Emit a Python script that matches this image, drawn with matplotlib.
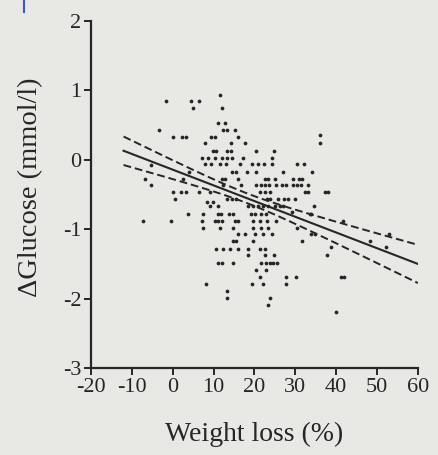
import numpy as np
import matplotlib
matplotlib.use("Agg")
import matplotlib.pyplot as plt
from matplotlib.lines import Line2D

# ---- data (rows of equal ΔGlucose) ----
glucose_levels = [0.94, 0.84, 0.74, 0.53, 0.43, 0.33, 0.35, 0.24, 0.13, 0.03,
                  -0.06, -0.08, -0.17, -0.27, -0.37, -0.47, -0.57, -0.61, -0.67,
                  -0.75, -0.78, -0.88, -0.98, -1.07, -1.17, -1.26, -1.29, -1.37,
                  -1.48, -1.59, -1.69, -1.79, -1.89, -1.99, -2.09, -2.19]
weight_loss_rows = [
    [11.5],
    [-1.7, 4.4, 6.5],
    [5.0, 12.0],
    [11.2, 12.8],
    [-3.3, 12.3, 13.2, 15.2],
    [0.0, 2.2, 3.2, 9.5, 10.3, 16.0],
    [36.0],
    [7.9, 14.2, 17.7, 36.0],
    [9.9, 10.7, 13.4, 14.2, 20.3, 24.7],
    [7.1, 8.7, 10.3, 12.0, 13.4, 14.4, 17.2, 24.4],
    [7.9, 9.5, 11.5, 13.0, 16.4, 19.3, 20.9, 22.3, 24.4, 30.5, 32.1],
    [-5.2],
    [4.0, 14.6, 15.6, 18.3, 20.5, 27.0, 34.0],
    [-6.8, 2.6, 12.0, 12.8, 16.0, 22.5, 23.3, 25.0, 29.4, 30.9, 31.7],
    [-5.3, 12.3, 16.8, 20.5, 21.5, 22.7, 23.5, 25.2, 26.8, 27.8, 29.5, 30.5, 31.5, 33.1],
    [0.1, 2.0, 3.2, 6.5, 9.1, 21.3, 22.5, 23.8, 32.3, 33.1, 37.2, 38.0],
    [0.7, 13.2, 14.4, 15.6, 23.0, 23.8, 25.8, 27.2, 28.2, 29.9],
    [8.3, 9.9],
    [9.1, 11.1, 18.5, 19.7, 20.9, 22.1, 23.3, 25.0, 26.2, 27.0, 34.5],
    [29.1],
    [3.8, 7.5, 11.1, 11.8, 13.8, 14.8, 19.1, 20.1, 21.7, 22.9, 33.5, 33.9],
    [-7.2, -0.5, 7.1, 10.3, 11.1, 12.0, 15.2, 16.0, 19.7, 21.3, 23.0, 25.4, 41.7],
    [7.5, 11.5, 14.8, 19.7, 21.7, 23.3, 30.3],
    [16.0, 17.7, 20.1, 22.1, 24.2, 33.9, 34.8, 52.9],
    [14.8, 15.6, 19.7, 31.6, 48.2],
    [38.8, 52.1],
    [10.7, 12.3, 14.0, 16.0, 18.5, 21.3, 22.5],
    [18.5, 22.5, 24.8, 37.7],
    [11.1, 12.0, 14.8, 21.7, 22.9, 23.8, 24.6, 25.6],
    [20.5, 22.9],
    [21.3, 27.8, 30.1, 41.3, 41.9],
    [8.2, 19.3, 22.1, 27.8],
    [13.3],
    [13.3, 23.8],
    [23.3],
    [39.9],
]
# regression line and 95% confidence band, read at the ends of the line
fit_x = [-12, 60]
fit_y = [0.13, -1.50]
band_upper = [0.34, -1.22]
band_lower = [-0.07, -1.77]
band_min_halfwidth = 0.07
x_ticks = [-20, -10, 0, 10, 20, 30, 40, 50, 60]
y_ticks = [-3, -2, -1, 0, 1, 2]

weight_loss = np.array([x for row in weight_loss_rows for x in row])
delta_glucose = np.array([y for y, row in zip(glucose_levels, weight_loss_rows) for _ in row])

# hyperbolic confidence band through the read end widths
x1, x2 = fit_x
h1 = (band_upper[0] - band_lower[0]) / 2
h2 = (band_upper[1] - band_lower[1]) / 2
a2 = band_min_halfwidth ** 2
r = np.sqrt((h2 ** 2 - a2) / (h1 ** 2 - a2))
xm = (x2 + r * x1) / (1 + r)
b2 = (h1 ** 2 - a2) / (x1 - xm) ** 2
slope = (fit_y[1] - fit_y[0]) / (x2 - x1)
xf = np.linspace(x1, x2, 200)
yf = fit_y[0] + slope * (xf - x1)
hw = np.sqrt(a2 + b2 * (xf - xm) ** 2)

bg = "#e8e8e5"
plt.rcParams["font.family"] = ["Liberation Serif", "DejaVu Serif"]
plt.rcParams["axes.unicode_minus"] = False
fig = plt.figure(figsize=(4.39, 4.55), dpi=100, facecolor=bg)
ax = fig.add_axes([0.207, 0.191, 0.745, 0.763], facecolor=bg)

ink = "#262626"
ax.plot(weight_loss, delta_glucose, "o", ms=2.7, color=ink, mec="none")
ax.plot(xf, yf, "-", color=ink, lw=1.5)
ax.plot(xf, yf + hw, "--", color=ink, lw=1.4, dashes=(4, 2))
ax.plot(xf, yf - hw, "--", color=ink, lw=1.4, dashes=(4, 2))

ax.set_xlim(-20, 60)
ax.set_ylim(-3, 2)
ax.set_xticks(x_ticks)
ax.set_yticks(y_ticks)
ax.spines["top"].set_visible(False)
ax.spines["right"].set_visible(False)
for sp in ("left", "bottom"):
    ax.spines[sp].set_linewidth(1.6)
    ax.spines[sp].set_color(ink)
ax.tick_params(direction="out", length=5, width=1.4, colors=ink, labelsize=16, pad=2)
ax.set_xlabel("Weight loss (%)", fontsize=20, color=ink, labelpad=18)
ax.set_ylabel("ΔGlucose (mmol/l)", fontsize=20.5, color=ink)
ax.yaxis.set_label_coords(-0.145, 0.52)

fig.add_artist(Line2D([24 / 439, 24 / 439], [1.0, 1 - 12 / 455], color="#3a55d0", lw=1.5))

fig.savefig("out.png", dpi=100, facecolor=bg)
